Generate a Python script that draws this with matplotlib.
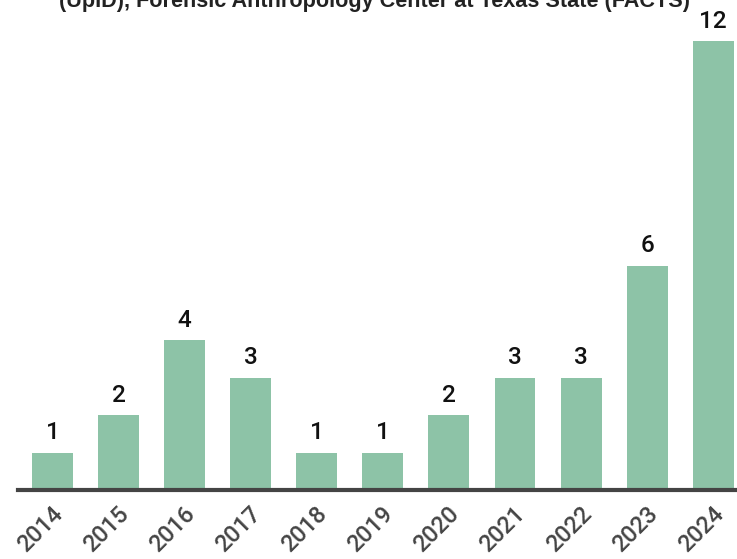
import numpy as np
import matplotlib.pyplot as plt
from matplotlib.transforms import ScaledTranslation

years = ["2014", "2015", "2016", "2017", "2018", "2019",
         "2020", "2021", "2022", "2023", "2024"]
counts = [1, 2, 4, 3, 1, 1, 2, 3, 3, 6, 12]

title = "(UpID), Forensic Anthropology Center at Texas State (FACTS)"

fig = plt.figure(figsize=(7.37, 5.59), dpi=100)
# axes from the axis line (x=18px) to the right edge, baseline at y=490px
ax = fig.add_axes([18 / 737, 69 / 559, 719 / 737, 449 / 559])

x = np.arange(len(years))
ax.bar(x, counts, width=0.62, color="#8dc3a7", zorder=1)

for xi, c in zip(x, counts):
    ax.annotate(str(c), (xi, c), xytext=(0, 6), textcoords="offset points",
                ha="center", va="bottom", fontsize=17.5, family="Roboto",
                weight="medium", color="#111111", annotation_clip=False)

ax.set_xlim(-0.522, 10.36)
ax.set_ylim(0, 12)
ax.set_yticks([])
ax.set_xticks(x)
ax.set_xticklabels(years, rotation=45, ha="right", va="center",
                   rotation_mode="anchor", fontsize=17, family="Roboto",
                   weight="medium", color="#444444")
ax.tick_params(axis="x", length=0, pad=14.5)
shift = ScaledTranslation(5 / 72, 0, fig.dpi_scale_trans)
for lab in ax.get_xticklabels():
    lab.set_transform(lab.get_transform() + shift)
for s in ["top", "right", "left"]:
    ax.spines[s].set_visible(False)
ax.spines["bottom"].set_color("#444444")
ax.spines["bottom"].set_linewidth(3)
ax.spines["bottom"].set_zorder(3)

fig.text(0.508, 1 - 7 / 559, title, ha="center", va="baseline",
         fontsize=15.6, weight="bold", family="Liberation Sans",
         color="#222222")

fig.savefig("out.png", dpi=100)
